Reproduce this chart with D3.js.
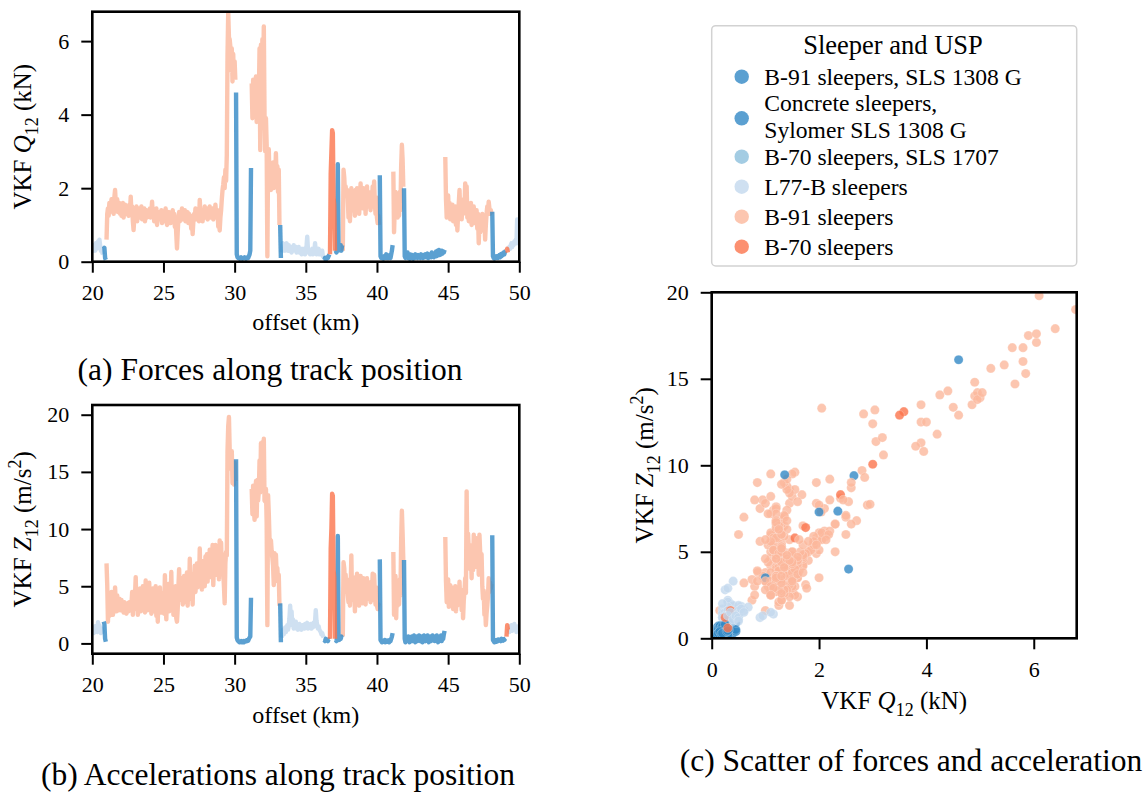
<!DOCTYPE html>
<html>
<head>
<meta charset="utf-8">
<script src="https://cdn.jsdelivr.net/npm/d3@7"></script>
<style>
  body { margin: 0; background: #fff; }
</style>
</head>
<body>
<svg id="fig" width="1148" height="796" style="font-family:'Liberation Serif', serif"></svg>
<script>
// ---------------------------------------------------------------------------
// Sleeper / under-sleeper-pad classes (legend order) and their colours
const sleeperTypes = [
  "B-91 sleepers, SLS 1308 G",
  "Concrete sleepers,\nSylomer SLS 1308 G",
  "B-70 sleepers, SLS 1707",
  "L77-B sleepers",
  "B-91 sleepers",
  "B-70 sleepers"
];
const sleeperColors = ["#3288c5", "#3288c5", "#8cbfdc", "#c3d8ee", "#fbb89c", "#fb744c"];

// Track is sampled every 50 m between km 20 and km 50
const offsetStartKm = 20;
const offsetStepKm = 0.05;

// Sleeper sections along the track: [class index, first km, last km]
const sleeperRuns = [
  [3, 20.00, 20.75], [0, 20.80, 20.95], [4, 21.00, 30.05], [0, 30.10, 31.15],
  [4, 31.20, 33.15], [0, 33.20, 33.25], [3, 33.30, 36.25], [0, 36.30, 36.65],
  [5, 36.70, 37.05], [0, 37.10, 37.55], [4, 37.60, 40.15], [0, 40.20, 41.10],
  [4, 41.15, 41.85], [1, 41.90, 44.75], [4, 44.80, 48.05], [0, 48.10, 49.05],
  [5, 49.10, 49.20], [3, 49.25, 50.00]
];

// VKF force Q12 (kN), one value per sample
const forceQ12 = [
  0.35,0.3,0.45,0.4,0.3,0.5,0.35,0.45,0.55,0.4,0.6,0.45,0.3,0.35,0.25,0.2,
  0.35,0.38,0.1,0.05,
  0.6,1.3,1.45,1.25,1.6,1.35,1.5,1.7,1.4,1.55,1.3,1.75,1.95,1.6,1.45,1.7,1.35,1.5,1.6,1.3,
  1.5,1.25,1.45,1.6,1.2,1.4,1.55,1.35,1.3,1.5,1.45,1.25,1.55,1.4,1.77,1.3,1.5,1.1,0.86,1.2,
  1.4,1.25,1.5,1.1,1.35,1.45,1.2,1.4,1.3,1.5,1.15,1.35,1.25,1.45,1.1,1.3,1.4,1.2,1.35,1.25,
  1.3,1.45,1.2,1.35,1.63,1.25,1.4,1.1,1.3,1.2,1.45,1.0,1.25,1.35,1.15,1.3,1.2,1.4,1.05,1.3,
  1.2,1.35,1.1,1.45,1.25,1.0,1.3,1.15,1.35,1.2,1.05,1.3,1.25,1.4,1.1,1.3,0.95,1.2,0.75,0.36,
  0.8,1.2,1.35,1.1,1.3,1.25,1.45,1.15,1.3,1.2,1.4,1.1,1.3,1.2,1.35,1.05,1.3,1.15,1.25,0.9,
  1.2,0.75,1.1,1.3,1.2,1.45,1.15,1.35,1.25,1.4,1.1,1.68,1.3,1.2,1.4,1.1,1.35,1.25,1.5,1.2,
  1.3,1.45,1.15,1.35,1.25,1.5,1.2,1.4,1.3,1.45,1.15,1.35,1.25,1.55,1.3,1.2,1.4,0.95,1.1,0.85,
  1.2,1.4,1.7,1.95,2.1,2.3,2.0,2.5,2.2,2.9,5.6,6.78,6.1,6.05,5.85,5.2,5.8,4.9,5.65,5.0,
  5.45,4.95,
  4.6,0.2,0.12,0.1,0.1,0.08,0.1,0.12,0.1,0.08,0.1,0.1,0.12,0.1,0.08,0.1,0.12,0.1,0.15,0.2,0.3,2.55,
  4.85,3.9,4.95,4.2,3.95,4.6,5.04,3.8,4.4,3.9,
  4.5,5.8,3.04,5.9,4.25,6.05,4.9,6.4,4.0,3.0,
  3.9,3.2,0.15,2.83,3.06,2.2,2.6,1.95,2.4,2.1,
  2.7,2.0,2.55,2.3,2.95,2.2,2.6,1.9,2.5,1.0,
  1.0,0.1,
  0.25,0.45,0.5,0.35,0.45,0.3,0.4,0.5,0.35,0.3,
  0.45,0.3,0.4,0.35,0.25,0.4,0.3,0.45,0.35,0.3,
  0.4,0.25,0.35,0.3,0.4,0.25,0.35,0.3,0.2,0.35,
  0.3,0.25,0.35,0.2,0.3,0.4,0.68,0.35,0.25,0.3,
  0.2,0.3,0.25,0.35,0.2,0.3,0.25,0.5,0.3,0.2,
  0.3,0.25,0.35,0.2,0.3,0.25,0.2,0.3,0.15,0.2,
  0.05,0.1,0.05,0.08,0.12,0.1,0.15,0.2,
  0.2,2.4,3.0,3.58,3.5,1.75,1.55,0.3,
  0.3,0.25,0.35,2.65,0.3,0.4,0.35,0.45,0.3,0.45,
  0.3,2.5,2.3,1.9,2.05,1.8,1.95,1.7,1.2,1.9,
  1.1,1.6,2.0,1.5,1.9,1.4,1.8,1.25,1.95,1.6,
  2.0,1.5,1.85,1.3,1.7,2.13,1.6,1.9,1.45,2.0,
  1.7,1.95,1.3,1.8,2.05,1.5,1.9,1.6,1.85,1.4,
  1.9,1.7,2.05,1.5,2.18,1.6,1.3,1.75,1.2,1.05,
  1.25,1.0,
  2.35,0.15,0.1,0.12,0.1,0.08,0.15,0.1,0.12,0.2,0.1,0.15,0.1,0.12,0.18,0.1,0.2,0.3,0.45,
  2.45,0.8,1.5,1.9,1.3,1.7,1.2,1.65,1.25,1.9,1.4,2.6,3.18,2.8,2.04,
  2.0,0.15,0.1,0.2,0.12,0.25,0.1,0.15,0.08,0.2,
  0.12,0.1,0.18,0.08,0.15,0.1,0.2,0.12,0.15,0.1,
  0.18,0.12,0.15,0.1,0.2,0.12,0.16,0.1,0.18,0.14,
  0.2,0.12,0.15,0.22,0.1,0.18,0.14,0.2,0.12,0.25,
  0.15,0.2,0.12,0.22,0.18,0.28,0.15,0.3,0.2,0.32,
  0.18,0.25,0.2,0.3,0.22,0.28,0.25,0.32,
  2.85,1.7,1.2,1.5,1.8,1.3,1.6,1.15,1.5,1.25,
  1.55,1.1,1.4,1.2,1.5,1.0,1.35,0.85,1.3,1.6,
  1.95,1.3,1.6,1.15,1.5,1.3,1.7,1.4,2.13,1.5,
  2.05,1.2,1.55,1.1,1.45,1.25,1.6,1.0,1.4,1.2,
  1.5,1.05,1.35,1.2,1.4,0.9,1.3,0.5,1.1,0.8,
  1.25,1.0,1.3,0.85,1.2,1.1,0.6,1.0,1.3,1.5,
  1.35,1.63,1.45,1.3,1.4,1.3,
  1.36,0.15,0.1,0.08,0.12,0.1,0.15,0.12,0.1,0.15,0.18,0.12,0.2,0.15,0.22,0.18,0.25,0.2,0.28,0.3,
  0.3,0.35,0.25,
  0.3,0.4,0.35,0.45,0.5,0.4,0.5,0.45,0.55,0.5,0.6,0.5,1.15,0.9,1.1,0.95
];

// VKF acceleration Z12 (m/s^2), one value per sample
const accelZ12 = [
  1.0,1.3,0.9,1.2,1.5,1.1,1.4,1.0,1.85,1.3,1.6,1.1,0.9,1.3,1.0,1.2,
  1.9,1.7,0.4,0.15,
  7.0,5.1,1.9,4.2,2.4,3.8,2.6,4.5,3.2,2.5,4.0,3.1,4.9,3.5,2.8,4.2,3.3,2.9,3.9,3.4,
  2.9,3.8,3.2,3.5,2.7,3.6,3.0,3.3,2.6,3.5,3.1,2.8,3.6,3.2,2.9,3.4,4.5,2.5,3.8,3.1,
  4.2,5.8,3.0,4.6,2.5,3.9,3.3,4.8,2.8,4.1,3.4,5.0,3.0,4.3,2.7,5.5,3.6,4.0,2.9,4.4,
  5.3,3.1,4.6,2.6,3.9,4.8,2.8,4.2,3.3,5.0,2.4,3.8,1.9,4.5,3.0,4.9,2.7,3.6,4.4,3.2,
  4.1,2.6,5.96,3.5,2.1,4.6,3.3,5.2,2.8,4.0,3.5,6.25,3.0,4.4,2.5,4.8,3.6,5.0,2.2,1.9,
  3.0,4.9,6.5,3.8,5.2,4.1,5.7,3.4,4.6,5.9,3.6,5.0,4.3,6.2,3.3,5.4,4.5,7.4,3.9,5.6,
  4.8,3.4,6.1,5.0,6.8,4.5,5.8,7.0,4.9,6.3,5.5,8.3,5.2,6.6,4.7,7.2,5.9,6.5,5.0,7.6,
  6.0,7.8,5.4,7.0,6.3,8.2,5.8,7.4,6.6,8.6,5.1,7.1,6.4,8.6,6.0,7.5,6.8,8.0,5.6,9.0,
  7.2,8.8,6.5,7.8,6.2,5.0,3.5,7.0,8.0,7.7,16.8,19.0,19.8,17.1,15.3,15.6,16.8,14.0,14.7,13.9,
  15.8,14.2,
  16.1,0.5,0.3,0.2,0.15,0.1,0.15,0.2,0.1,0.15,0.2,0.1,0.15,0.2,0.25,0.2,0.3,0.25,0.4,0.5,0.6,4.0,
  13.5,11.3,13.8,11.8,10.8,12.9,14.2,11.1,14.3,12.5,
  13.35,16.0,13.2,17.5,14.07,17.6,14.8,17.9,12.5,12.4,
  13.5,10.6,1.6,12.97,11.37,9.2,8.7,9.0,8.1,7.5,
  6.8,5.1,7.9,6.6,7.75,6.2,6.6,5.4,6.0,3.3,
  3.5,0.1,
  0.5,0.9,1.2,0.8,1.1,1.4,1.0,1.3,1.6,1.2,
  1.5,2.2,3.3,2.0,2.8,1.6,2.1,1.3,1.7,1.4,
  1.9,1.3,1.6,1.2,1.5,1.7,1.3,1.5,1.2,1.6,
  1.4,1.6,1.3,1.7,1.4,1.5,1.8,1.3,1.6,1.4,
  1.5,1.7,1.3,1.6,1.4,1.8,1.5,1.9,2.9,2.0,
  1.6,1.3,1.5,1.2,1.1,1.0,0.8,0.9,0.7,0.5,
  0.3,0.2,0.4,0.25,0.3,0.2,0.35,0.3,
  0.4,8.3,10.06,13.1,12.9,6.4,5.8,0.4,
  0.3,0.2,0.5,9.4,0.4,0.3,0.6,0.4,0.6,0.5,
  0.6,7.1,6.6,5.2,6.0,4.5,5.6,4.2,3.6,5.3,
  3.3,4.6,7.7,4.0,5.5,3.8,5.0,2.8,5.8,4.4,
  6.1,3.9,5.2,3.3,4.8,5.9,4.1,5.4,3.5,5.7,
  4.6,5.5,3.4,5.0,5.7,3.9,5.3,4.3,5.1,3.6,
  5.4,4.7,6.1,3.8,6.0,4.5,3.4,4.9,3.3,3.0,
  3.4,3.3,
  7.35,0.3,0.2,0.1,0.25,0.15,0.2,0.3,0.1,0.2,0.15,0.25,0.2,0.1,0.3,0.2,0.4,0.6,0.9,
  8.0,2.5,4.6,5.9,2.2,4.8,3.3,5.0,3.4,5.6,4.2,9.0,11.6,9.7,7.3,
  7.3,0.4,0.1,0.3,0.5,0.2,0.6,0.3,0.1,0.5,
  0.3,0.6,0.2,0.5,0.7,0.3,0.1,0.5,0.6,0.2,
  0.4,0.7,0.3,0.2,0.6,0.4,0.1,0.5,0.7,0.3,
  0.2,0.6,0.4,0.7,0.3,0.1,0.5,0.6,0.2,0.4,
  0.7,0.3,0.5,0.2,0.6,0.4,0.7,0.3,0.1,0.5,
  0.6,0.3,0.7,0.2,0.5,0.4,0.8,1.1,
  9.3,5.4,3.6,4.8,5.6,3.2,4.5,5.1,3.4,4.9,
  4.0,3.0,4.6,3.5,5.0,2.8,4.2,3.3,4.4,3.7,
  5.4,3.6,4.7,2.9,4.3,2.2,3.8,4.6,5.7,4.4,
  13.3,6.8,9.6,8.2,8.4,6.5,7.9,5.7,8.6,6.4,
  9.5,7.2,9.0,6.7,9.2,7.5,8.9,6.0,9.5,8.0,
  6.3,7.8,5.0,3.9,4.6,2.5,3.2,1.6,2.6,3.3,
  4.1,5.7,4.5,5.3,4.8,5.2,
  9.45,0.3,0.2,0.1,0.3,0.2,0.15,0.3,0.2,0.35,0.25,0.3,0.2,0.4,0.3,0.25,0.35,0.3,0.4,0.45,
  0.6,1.6,1.2,
  1.3,1.0,1.5,1.2,1.6,1.1,1.4,1.3,1.7,1.2,1.5,1.0,1.4,1.2,1.5,1.3
];

// Axis ticks
const offsetTicks = [20, 25, 30, 35, 40, 45, 50];
const forceTicks = [0, 2, 4, 6];
const accelTicks = [0, 5, 10, 15, 20];
const scatterForceTicks = [0, 2, 4, 6];
const scatterAccelTicks = [0, 5, 10, 15, 20];

// ---------------------------------------------------------------------------
const svg = d3.select("#fig");
const SERIF = "'Liberation Serif', serif";
const TICK_FONT = 22;
const LABEL_FONT = 25;
const CAPTION_FONT = 31.5;
const LEGEND_FONT = 23.6;

if (forceQ12.length !== accelZ12.length) console.warn("sample count mismatch", forceQ12.length, accelZ12.length);

const samples = forceQ12.map((q, i) => {
  const km = +(offsetStartKm + i * offsetStepKm).toFixed(2);
  const run = sleeperRuns.find(r => km >= r[1] - 1e-6 && km <= r[2] + 1e-6);
  return { km, q, z: accelZ12[i], cls: run ? run[0] : 0 };
});

// consecutive samples of one class form a drawn section
const sections = [];
samples.forEach(s => {
  const last = sections[sections.length - 1];
  if (last && last.cls === s.cls) last.pts.push(s);
  else sections.push({ cls: s.cls, pts: [s] });
});

// text with italic symbols, subscripts and superscripts
function richText(parent, parts, size) {
  const t = parent.append("text").attr("font-size", size);
  let shift = 0;
  parts.forEach(p => {
    const s = t.append("tspan").text(p.t);
    let target = 0;
    if (p.sub) target = 0.26 * size;
    if (p.sup) target = -0.42 * size;
    if (p.sub || p.sup) s.attr("font-size", size * 0.72);
    if (p.it) s.attr("font-style", "italic");
    if (target - shift !== 0) s.attr("dy", target - shift);
    shift = target;
  });
  return t;
}
const qLabel = [{ t: "VKF " }, { t: "Q", it: true }, { t: "12", sub: true }, { t: " (kN)" }];
const zLabel = [{ t: "VKF " }, { t: "Z", it: true }, { t: "12", sub: true }, { t: " (m/s" }, { t: "2", sup: true }, { t: ")" }];

function styleAxis(g) {
  g.attr("font-family", null).attr("font-size", null);
  g.select(".domain").remove();
  g.selectAll(".tick line").attr("stroke", "#000").attr("stroke-width", 2);
  g.selectAll(".tick text").attr("font-size", TICK_FONT).attr("fill", "#000");
}

function frame(g, x0, y0, x1, y1) {
  g.append("rect").attr("x", x0).attr("y", y0).attr("width", x1 - x0).attr("height", y1 - y0)
    .attr("fill", "none").attr("stroke", "#000").attr("stroke-width", 2.6);
}

// ---------------------------------------------------------------------------
// Track-position line panels
function trackPanel(opt) {
  const { left, right, top, bottom, yDomain, yTicks, key, label, id } = opt;
  const x = d3.scaleLinear().domain([20, 50]).range([left, right]);
  const y = d3.scaleLinear().domain(yDomain).range([bottom, top]);
  const g = svg.append("g");

  g.append("clipPath").attr("id", id).append("rect")
    .attr("x", left).attr("y", top).attr("width", right - left).attr("height", bottom - top);

  const line = d3.line().x(d => x(d.km)).y(d => y(d[key]));
  const drawOrder = [4, 3, 2, 0, 1, 5];
  const plot = g.append("g").attr("clip-path", `url(#${id})`);
  drawOrder.forEach(c => {
    sections.filter(s => s.cls === c).forEach(s => {
      plot.append("path").attr("d", line(s.pts))
        .attr("fill", "none").attr("stroke", sleeperColors[c]).attr("stroke-opacity", 0.8)
        .attr("stroke-width", 4.4).attr("stroke-linejoin", "round").attr("stroke-linecap", "butt");
    });
  });

  g.append("g").attr("transform", `translate(0,${bottom})`)
    .call(d3.axisBottom(x).tickValues(offsetTicks).tickSize(11).tickPadding(12).tickFormat(d3.format("d")))
    .call(styleAxis);
  g.append("g").attr("transform", `translate(${left},0)`)
    .call(d3.axisLeft(y).tickValues(yTicks).tickSize(11).tickPadding(12).tickFormat(d3.format("d")))
    .call(styleAxis);
  frame(g, left, top, right, bottom);

  g.append("text").attr("x", (left + right) / 2).attr("y", opt.xLabelY)
    .attr("text-anchor", "middle").attr("font-size", 24).text("offset (km)");
  richText(g, label, LABEL_FONT).attr("text-anchor", "middle")
    .attr("transform", `translate(${opt.yLabelX},${(top + bottom) / 2}) rotate(-90)`);
  g.append("text").attr("x", opt.capX).attr("y", opt.capY)
    .attr("text-anchor", "middle").attr("font-size", CAPTION_FONT).text(opt.caption);
}

trackPanel({
  id: "clipForce", left: 92.3, right: 519.3, top: 11.7, bottom: 261.7,
  yDomain: [0, 6.8], yTicks: forceTicks, key: "q", label: qLabel,
  xLabelY: 330, yLabelX: 31, capX: 270, capY: 380,
  caption: "(a) Forces along track position"
});
trackPanel({
  id: "clipAccel", left: 92.3, right: 519.3, top: 405, bottom: 653.7,
  yDomain: [-0.9, 20.85], yTicks: accelTicks, key: "z", label: zLabel,
  xLabelY: 723, yLabelX: 31, capX: 278, capY: 785,
  caption: "(b) Accelerations along track position"
});

// ---------------------------------------------------------------------------
// Scatter of force against acceleration
(function scatterPanel() {
  const left = 711.7, right = 1076.7, top = 292.3, bottom = 638.3;
  const x = d3.scaleLinear().domain([0, 6.8]).range([left, right]);
  const y = d3.scaleLinear().domain([0, 20]).range([bottom, top]);
  const g = svg.append("g");
  g.append("clipPath").attr("id", "clipScatter").append("rect")
    .attr("x", left).attr("y", top).attr("width", right - left).attr("height", bottom - top);

  g.append("g").attr("clip-path", "url(#clipScatter)")
    .selectAll("circle").data(samples).join("circle")
    .attr("cx", d => x(d.q)).attr("cy", d => y(d.z)).attr("r", 4.6)
    .attr("fill", d => sleeperColors[d.cls]).attr("fill-opacity", 0.8)
    .attr("stroke", "#fff").attr("stroke-width", 0.4).attr("stroke-opacity", 0.6);

  g.append("g").attr("transform", `translate(0,${bottom})`)
    .call(d3.axisBottom(x).tickValues(scatterForceTicks).tickSize(11).tickPadding(12).tickFormat(d3.format("d")))
    .call(styleAxis);
  g.append("g").attr("transform", `translate(${left},0)`)
    .call(d3.axisLeft(y).tickValues(scatterAccelTicks).tickSize(11).tickPadding(12).tickFormat(d3.format("d")))
    .call(styleAxis);
  frame(g, left, top, right, bottom);

  richText(g, qLabel, LABEL_FONT).attr("text-anchor", "middle")
    .attr("x", (left + right) / 2).attr("y", 709);
  richText(g, zLabel, LABEL_FONT).attr("text-anchor", "middle")
    .attr("transform", `translate(653,${(top + bottom) / 2}) rotate(-90)`);
  g.append("text").attr("x", 911).attr("y", 771)
    .attr("text-anchor", "middle").attr("font-size", CAPTION_FONT).text("(c) Scatter of forces and acceleration");
})();

// ---------------------------------------------------------------------------
// Legend
(function legend() {
  const g = svg.append("g");
  g.append("rect").attr("x", 711.7).attr("y", 25.7).attr("width", 365).attr("height", 240.3)
    .attr("rx", 4).attr("fill", "#fff").attr("stroke", "#d2d2d2").attr("stroke-width", 1.5);
  g.append("text").attr("x", 893).attr("y", 54).attr("text-anchor", "middle")
    .attr("font-size", 26.5).text("Sleeper and USP");
  const rowY = [76.7, 118.3, 156.7, 186.7, 216.7, 246.7];
  const lineGap = 26.2;
  sleeperTypes.forEach((name, i) => {
    g.append("circle").attr("cx", 741.7).attr("cy", rowY[i]).attr("r", 7.2)
      .attr("fill", sleeperColors[i]).attr("fill-opacity", 0.8);
    const lines = name.split("\n");
    const mid = lines.length > 1 ? rowY[i] - 1.6 : rowY[i];
    lines.forEach((ln, j) => {
      const cy = mid + (j - (lines.length - 1) / 2) * lineGap;
      g.append("text").attr("x", 764.3).attr("y", cy + 7.8)
        .attr("font-size", LEGEND_FONT).text(ln);
    });
  });
})();

// every label uses the serif face
svg.selectAll("text").style("font-family", SERIF);
</script>
</body>
</html>
